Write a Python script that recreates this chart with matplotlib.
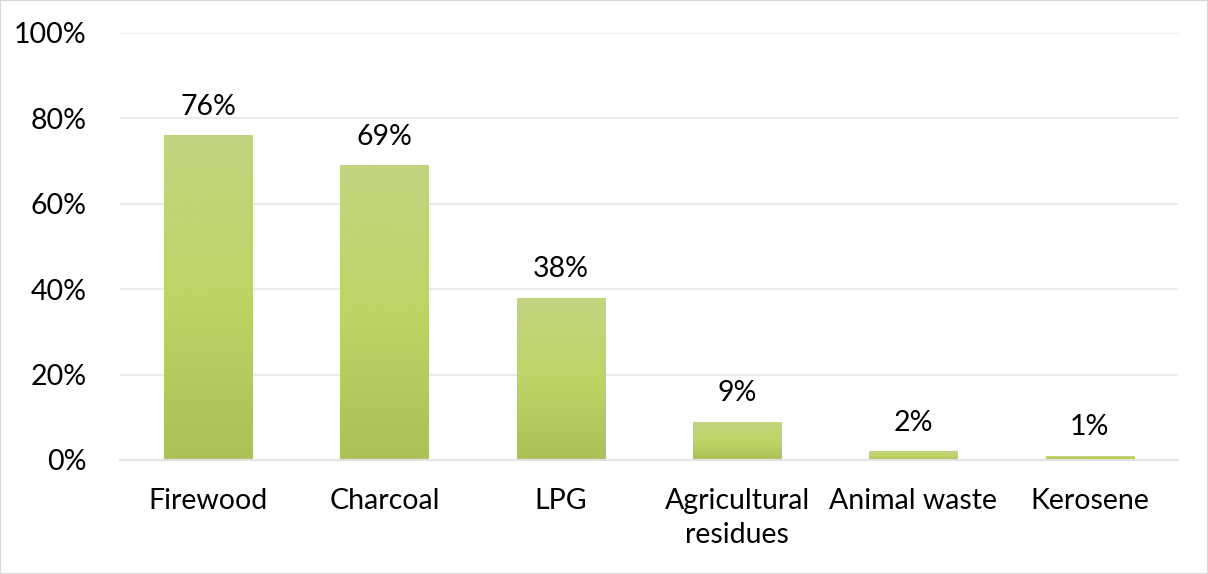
import numpy as np
import matplotlib.pyplot as plt
from matplotlib.colors import LinearSegmentedColormap
from matplotlib.patches import Rectangle

plt.rcParams['font.family'] = ['Lato', 'DejaVu Sans']

categories = ['Firewood', 'Charcoal', 'LPG', 'Agricultural\nresidues', 'Animal waste', 'Kerosene']
values = [76, 69, 38, 9, 2, 1]
yticks = [0, 20, 40, 60, 80, 100]

fig = plt.figure(figsize=(12.08, 5.74), dpi=100)
ax = fig.add_axes([120 / 1208, 1 - 460 / 574, (1178 - 120) / 1208, (460 - 33) / 574])

x = np.arange(len(categories))
bars = ax.bar(x, values, width=0.5, color='none', zorder=2)

# vertical gradient for each bar
cmap = LinearSegmentedColormap.from_list('g', ['#ABC159', '#BED466', '#C3D480'])
grad = np.linspace(0, 1, 256).reshape(-1, 1)
for b, v in zip(bars, values):
    x0, y0 = b.get_x(), b.get_y()
    w, h = b.get_width(), b.get_height()
    im = ax.imshow(grad, cmap=cmap, aspect='auto', origin='lower',
                   extent=[x0, x0 + w, y0, y0 + h], zorder=2)
    im.set_clip_path(b)
    ax.text(x0 + w / 2, h + 3.6, f'{v}%', ha='center', va='bottom',
            fontsize=20.5, color='#000000')

ax.set_xlim(-0.5, len(categories) - 0.5)
ax.set_ylim(0, 100)
ax.set_yticks(yticks)
ax.set_yticklabels([f'{t}%' for t in yticks], fontsize=20.5)
ax.set_xticks(x)
ax.set_xticklabels(categories, fontsize=20.5, linespacing=1.4)
ax.tick_params(length=0)
ax.tick_params(axis='x', pad=20)
ax.tick_params(axis='y', pad=24)
ax.grid(axis='y', color='#EBEBEB', linewidth=1.5, zorder=0)
for s in ['top', 'right', 'left']:
    ax.spines[s].set_visible(False)
ax.spines['bottom'].set_color('#E3E3E3')
ax.spines['bottom'].set_linewidth(1.5)
ax.set_axisbelow(True)

fig.patches.append(Rectangle((0, 0), 1, 1, transform=fig.transFigure, fill=False,
                             edgecolor='#D9D9D9', linewidth=1.5))

fig.savefig('out.png', dpi=100)
